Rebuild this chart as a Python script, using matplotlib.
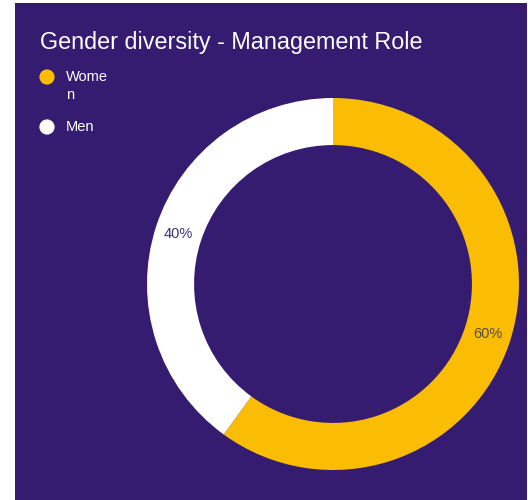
import matplotlib.pyplot as plt

# data
labels = ['Women', 'Men']
legend_labels = ['Wome\nn', 'Men']
shares = [60, 40]
colors = ['#fbbc04', '#ffffff']
label_colors = ['#5a4b3c', '#3d3179']

bg = '#351c70'
W, H = 528, 500

plt.rcParams['font.family'] = ['Liberation Sans', 'DejaVu Sans']
fig = plt.figure(figsize=(W / 100, H / 100), dpi=100, facecolor='white')

# purple card
card = fig.add_axes([15 / W, 0, (527 - 15) / W, (500 - 3) / H])
card.set_facecolor(bg)
card.set_xticks([])
card.set_yticks([])
for s in card.spines.values():
    s.set_visible(False)

# donut
cx, cy, R = 333, 284, 186
ax = fig.add_axes([(cx - R) / W, (H - cy - R) / H, 2 * R / W, 2 * R / H])
ax.set_facecolor('none')
wedges, texts, autotexts = ax.pie(shares, colors=colors, startangle=90, counterclock=False,
                                  radius=1, wedgeprops=dict(width=0.253, edgecolor='none'),
                                  autopct='%d%%', pctdistance=0.873,
                                  textprops=dict(fontsize=10.5))
for t, c in zip(autotexts, label_colors):
    t.set_color(c)
ax.set_xlim(-1, 1)
ax.set_ylim(-1, 1)
ax.axis('off')

# title
fig.text(40 / W, 1 - 42 / H, 'Gender diversity - Management Role', color='white',
         fontsize=16.8, va='center', ha='left')

# legend
ov = fig.add_axes([0, 0, 1, 1])
ov.set_xlim(0, W)
ov.set_ylim(H, 0)
ov.axis('off')
ys = [77, 127]
for lab, c, y in zip(legend_labels, colors, ys):
    ov.scatter([47], [y], s=120, color=c, edgecolors='none')
    ov.text(66, y - 7, lab, color='white', fontsize=10.5, va='top', ha='left',
            multialignment='left', linespacing=1.4)

fig.savefig('out.png', dpi=100, facecolor=fig.get_facecolor())
